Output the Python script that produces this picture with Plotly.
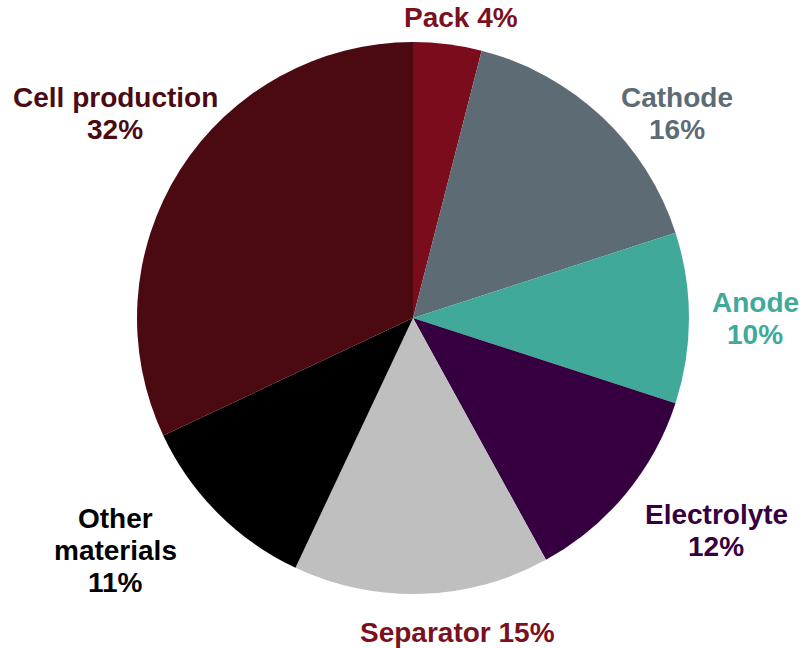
import plotly.graph_objects as go

# Data
categories = ["Pack", "Cathode", "Anode", "Electrolyte", "Separator", "Other materials", "Cell production"]
shares = [4, 16, 10, 12, 15, 11, 32]

# Style
slice_colors = ["#7B0C1C", "#5D6B75", "#41A999", "#360040", "#BFBFBF", "#000000", "#4B0A12"]
text_colors = ["#7B1020", "#5D6B75", "#41A999", "#360040", "#7B1020", "#000000", "#4B0A12"]
label_px = [(461, 17), (677, 113), (755, 318), (716, 530), (458, 632), (115, 550), (115, 113)]
line_gap = 32

W, H = 802, 648
cx, cy, r = 413, 318, 276

fig = go.Figure(go.Pie(
    labels=categories,
    values=shares,
    sort=False,
    direction="clockwise",
    rotation=0,
    marker=dict(colors=slice_colors, line=dict(width=0)),
    textinfo="none",
    hoverinfo="label+percent",
    showlegend=False,
    domain=dict(x=[(cx - r) / W, (cx + r) / W], y=[(H - cy - r) / H, (H - cy + r) / H]),
))

annotations = []
for name, v, col, (px, py) in zip(categories, shares, text_colors, label_px):
    if name == "Other materials":
        lines = ["Other", "materials", f"{v}%"]
    elif name in ("Pack", "Separator"):
        lines = [f"{name} {v}%"]
    else:
        lines = [name, f"{v}%"]
    n = len(lines)
    for i, ln in enumerate(lines):
        y = py + (i - (n - 1) / 2) * line_gap
        annotations.append(dict(
            text=ln, x=px / W, y=1 - y / H, xref="paper", yref="paper",
            xanchor="center", yanchor="middle", showarrow=False,
            font=dict(family="Liberation Sans, Arial, sans-serif", size=28, color=col, weight="bold"),
        ))

fig.update_layout(
    width=W, height=H,
    margin=dict(l=0, r=0, t=0, b=0),
    paper_bgcolor="white", plot_bgcolor="white",
    annotations=annotations,
)

fig.write_html("out.html")
